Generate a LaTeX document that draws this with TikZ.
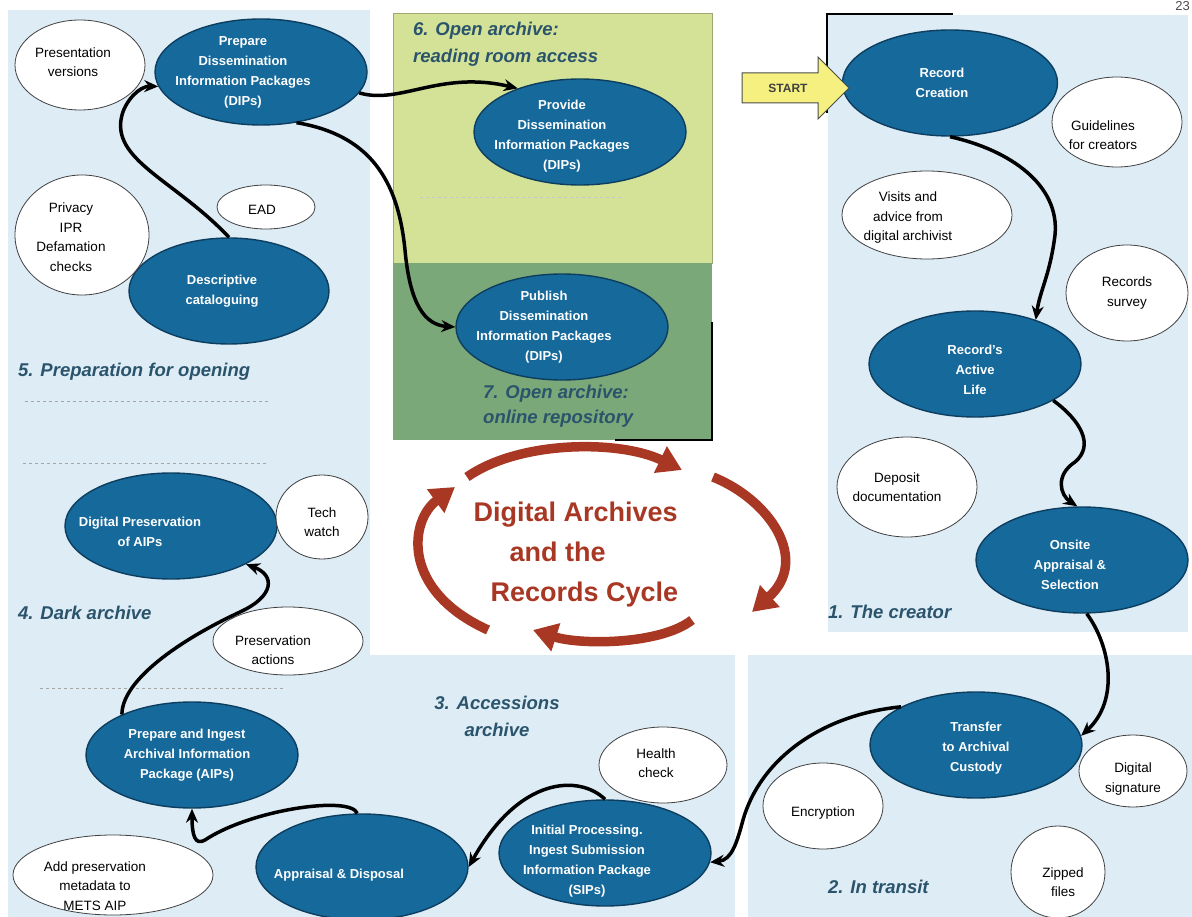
\documentclass[tikz,border=0pt]{standalone}
\usepackage{fontspec}
\setmainfont{Liberation Sans}
\usetikzlibrary{arrows.meta,positioning,shapes.geometric,shapes.arrows}
\definecolor{zoneblue}{RGB}{221,236,245}
\definecolor{readgreen}{RGB}{212,226,152}
\definecolor{webgreen}{RGB}{122,168,120}
\definecolor{stagefill}{RGB}{22,105,155}
\definecolor{stageline}{RGB}{14,62,95}
\definecolor{zoneink}{RGB}{42,84,108}
\definecolor{cycred}{RGB}{168,56,36}
\definecolor{startyellow}{RGB}{246,240,128}

\begin{document}
\begin{tikzpicture}[x=1pt,y=-1pt,
   stage/.style={ellipse,draw=stageline,line width=1.4pt,fill=stagefill,
                 minimum width=212pt,minimum height=106pt,inner sep=0pt},
   stagetext/.style={align=center,text=white,font=\bfseries\fontsize{13}{20}\selectfont},
   blob/.style={ellipse,draw=black!75,line width=0.8pt,fill=white,inner sep=0pt},
   blobtext/.style={align=center,font=\fontsize{13.5}{19.5}\selectfont},
   zone/.style={fill=zoneblue,draw=none},
   zonelabel/.style={text=zoneink,font=\bfseries\itshape\fontsize{18.5}{27}\selectfont,
                     align=left,inner sep=0pt},
   guide/.style={draw=black!35,dashed,line width=0.9pt},
   flow/.style={->,line width=3.5pt},
   redarc/.style={-{Triangle[length=24pt,width=28pt]},draw=cycred,line width=9.5pt},
   startarrow/.style={single arrow,draw=black!70,fill=startyellow,line width=1pt,
                      single arrow head extend=16pt,minimum height=107pt,
                      inner ysep=10pt,inner xsep=4pt,text height=9pt,text depth=0pt,
                      text=black!75,font=\bfseries\fontsize{12}{12}\selectfont},
   >={Stealth[length=14pt,width=12pt]}]
  \useasboundingbox (0,0) rectangle (1192,917);
  \fill[zone] (8,10) rectangle (370,655);
  \fill[zone] (8,655) rectangle (735,917);
  \fill[zone] (828,15) rectangle (1188,632);
  \fill[zone] (748,655) rectangle (1192,917);
  \filldraw[fill=readgreen,draw=readgreen!75!black,line width=0.8pt] (393,13) rectangle (712,263);
  \fill[webgreen] (393,263) rectangle (712,440);
  \draw[line width=1.6pt] (827,113) |- (953,14);
  \draw[line width=1.6pt] (712,322) |- (615,440);
  \draw[guide] (25,401) -- (268,401);
  \draw[guide] (23,463) -- (268,463);
  \draw[guide] (40,688) -- (283,688);
  \draw[guide,draw=black!22] (420,197) -- (624,197);

  \node[anchor=north east,text=black!70,inner sep=0pt,font=\fontsize{13}{13}\selectfont] (pageno) at (1190,1) {23};

  \node[zonelabel,anchor=west] (prepLbl) at (18,372) {5. Preparation for opening};
  \node[zonelabel,anchor=west] (darkLbl) at (18,613) {4. Dark archive};
  \node[zonelabel,align=center] (accLbl) at (497,716) {3. Accessions\\archive};
  \node[zonelabel,anchor=west] (transitLbl) at (828,887) {2. In transit};
  \node[zonelabel,anchor=west] (creatorLbl) at (828,612) {1. The creator};
  \node[zonelabel,anchor=north west] (readLbl) at (413,22) {6. Open archive:\\reading room access};
  \node[zonelabel,anchor=west,font=\bfseries\itshape\fontsize{18.5}{25}\selectfont]
       (onlineLbl) at (483,406) {7. Open archive:\\online repository};

  \node[stage,label={[stagetext,xshift=-18pt]center:{Prepare\\Dissemination\\Information Packages\\(DIPs)}}] (prepDIP) at (261,72) {};
  \node[stage,minimum width=200pt,label={[stagetext,xshift=-7pt]center:{Descriptive\\cataloguing}}] (descCat) at (229,291) {};
  \node[stage,label={[stagetext,xshift=-18pt,yshift=-4pt]center:{Provide\\Dissemination\\Information Packages\\(DIPs)}}] (provDIP) at (580,132) {};
  \node[stage,label={[stagetext,xshift=-18pt]center:{Publish\\Dissemination\\Information Packages\\(DIPs)}}] (pubDIP) at (562,327) {};
  \node[stage,minimum width=215pt,label={[stagetext,xshift=-8pt]center:{Record\\Creation}}] (recCreate) at (950,83) {};
  \node[stage,label={[stagetext,yshift=-6pt]center:{Record's\\Active\\Life}}] (recActive) at (975,364) {};
  \node[stage,label={[stagetext,xshift=-12pt,yshift=-5pt]center:{Onsite\\Appraisal \&\\Selection}}] (onsite) at (1082,560) {};
  \node[stage,label={[stagetext,yshift=-3pt]center:{Transfer\\to Archival\\Custody}}] (transfer) at (976,745) {};
  \node[stage,label={[stagetext,xshift=-18pt,yshift=-8pt]center:{Initial Processing.\\Ingest Submission\\Information Package\\(SIPs)}}] (initProc) at (605,853) {};
  \node[stage,label={[stagetext,xshift=-23pt,yshift=-8pt]center:{Appraisal \& Disposal}}] (apprDisp) at (362,867) {};
  \node[stage,label={[stagetext,xshift=-5pt]center:{Prepare and Ingest\\Archival Information\\Package (AIPs)}}] (prepAIP) at (192,755) {};
  \node[stage,label={[stagetext,xshift=-31pt,yshift=-6pt]center:{Digital Preservation\\of AIPs}}] (digPres) at (171,526) {};

  \node[blob,minimum width=130pt,minimum height=90pt,label={[blobtext,xshift=-7pt,yshift=3pt]center:{Presentation\\versions}}] (presVer) at (80,65) {};
  \node[blob,minimum width=134pt,minimum height=120pt,label={[blobtext,xshift=-11pt,yshift=-2pt]center:{Privacy\\IPR\\Defamation\\checks}}] (privacy) at (82,235) {};
  \node[blob,minimum width=98pt,minimum height=44pt,label={[blobtext,xshift=-4pt,yshift=-3pt]center:{EAD}}] (ead) at (266,207) {};
  \node[blob,minimum width=130pt,minimum height=90pt,label={[blobtext,xshift=-14pt,yshift=-13pt]center:{Guidelines\\for creators}}] (guide) at (1117,122) {};
  \node[blob,minimum width=170pt,minimum height=88pt,label={[blobtext,xshift=-19pt,yshift=-3pt]center:{Visits and\\advice from\\digital archivist}}] (visits) at (927,215) {};
  \node[blob,minimum width=122pt,minimum height=96pt,label={[blobtext]center:{Records\\survey}}] (survey) at (1127,293) {};
  \node[blob,minimum width=140pt,minimum height=100pt,label={[blobtext,xshift=-10pt]center:{Deposit\\documentation}}] (deposit) at (907,487) {};
  \node[blob,minimum width=92pt,minimum height=84pt,label={[blobtext,yshift=-5pt]center:{Tech\\watch}}] (techWatch) at (322,517) {};
  \node[blob,minimum width=150pt,minimum height=68pt,label={[blobtext,xshift=-15pt,yshift=-9pt]center:{Preservation\\actions}}] (presAct) at (288,641) {};
  \node[blob,minimum width=200pt,minimum height=80pt,label={[blobtext,xshift=-18pt,yshift=-11pt]center:{Add preservation\\metadata to\\METS AIP}}] (addMeta) at (113,875) {};
  \node[blob,minimum width=128pt,minimum height=76pt,label={[blobtext,xshift=-7pt,yshift=2pt]center:{Health\\check}}] (health) at (663,765) {};
  \node[blob,minimum width=120pt,minimum height=86pt,label={[blobtext,yshift=-7pt]center:{Encryption}}] (encrypt) at (823,806) {};
  \node[blob,minimum width=108pt,minimum height=72pt,label={[blobtext,yshift=-8pt]center:{Digital\\signature}}] (digSig) at (1133,771) {};
  \node[blob,minimum width=94pt,minimum height=92pt,label={[blobtext,xshift=5pt,yshift=-10pt]center:{Zipped\\files}}] (zipped) at (1058,872) {};

  \node[startarrow] (start) at (788,88) {START};

  \node[anchor=west,align=left,text=cycred,font=\bfseries\fontsize{27}{40}\selectfont] (cycTitle) at (470,555)
       {Digital Archives\\\hspace*{36pt}and the\\\hspace*{17pt}Records Cycle};
  \draw[redarc] (467,477) .. controls (520,440) and (620,440) .. (682,470);
  \draw[redarc] (713,477) .. controls (770,500) and (810,560) .. (752,612);
  \draw[redarc] (692,620) .. controls (660,645) and (580,645) .. (533,630);
  \draw[redarc] (488,630) .. controls (400,590) and (410,520) .. (455,487);

  \draw[flow] (descCat.north) .. controls (175,180) and (110,160) .. (122,115)
              .. controls (126,100) and (140,86) .. (prepDIP.188);
  \draw[flow] (prepDIP.-12) .. controls (400,105) and (440,70) .. (provDIP.145);
  \draw[flow] (prepDIP.-55) .. controls (370,135) and (398,180) .. (405,250)
              .. controls (410,305) and (425,325) .. (pubDIP.west);
  \draw[flow] (recCreate.south) .. controls (1010,150) and (1060,185) .. (1055,235)
              .. controls (1050,275) and (1040,290) .. (recActive.36);
  \draw[flow] (recActive.-25) .. controls (1080,420) and (1095,445) .. (1075,462)
              .. controls (1055,475) and (1060,495) .. (onsite.95);
  \draw[flow] (onsite.-85) .. controls (1110,645) and (1120,700) .. (transfer.5);
  \draw[flow] (transfer.153) .. controls (820,715) and (760,760) .. (743,820)
              .. controls (737,842) and (732,860) .. (initProc.-5);
  \draw[flow] (initProc.north) .. controls (580,775) and (520,775) .. (apprDisp.east);
  \draw[flow] (apprDisp.95) .. controls (350,795) and (250,810) .. (205,840)
              .. controls (195,846) and (192,835) .. (prepAIP.south);
  \draw[flow] (prepAIP.150) .. controls (122,680) and (180,640) .. (240,612)
              .. controls (275,596) and (275,575) .. (digPres.-27);
\end{tikzpicture}
\end{document}
